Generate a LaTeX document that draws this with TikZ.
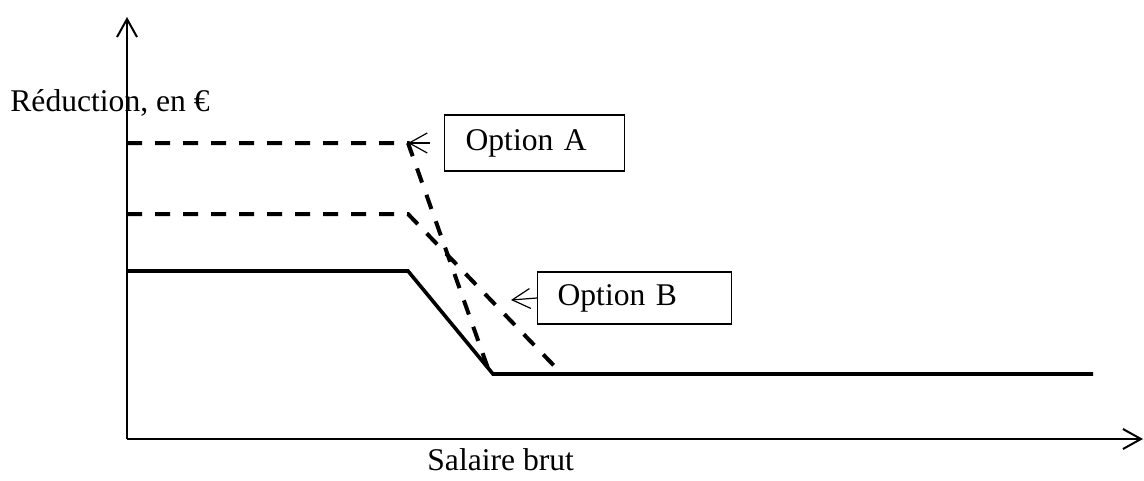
\documentclass[tikz,border=0pt]{standalone}
\usepackage{fontspec}
\setmainfont{Liberation Serif}
\usetikzlibrary{arrows.meta}

\begin{document}
\begin{tikzpicture}[x=0.5pt,y=-0.5pt,
   >={Straight Barb[length=9pt,width=10pt]},
   axe/.style={line width=1pt,->},
   bareme/.style={line width=1.8pt},
   option/.style={line width=2pt,dash pattern=on 7.5pt off 6.5pt},
   etiquette/.style={draw,line width=0.6pt,align=left,inner ysep=0pt,anchor=west},
   every node/.style={font=\fontsize{15.8}{18}\selectfont}]
   \useasboundingbox (0,0) rectangle (1144,481);
   % axes
   \draw[axe] (127,439) -- (127,17);
   \draw[axe] (127,439) -- (1143,439);
   \node[anchor=base west,inner xsep=0pt] (ordonnee) at (10,112) {Réduction, en €};
   \node[anchor=base west,inner xsep=0pt] (abscisse) at (427,470) {Salaire brut};

   % bareme actuel et options
   \draw[bareme] (127,271) -- (408,271) -- (493,374) -- (1093,374);
   \draw[option] (127,143) -- (408,143) -- (490,374);
   \draw[option] (127,214) -- (408,214) -- (562,374);

   \coordinate (coudeA) at (408,143);
   \coordinate (penteB) at (511,300);
   \node[etiquette,text width=69pt,inner xsep=10.5pt,minimum height=28pt] (optA) at (444,143) {Option A};
   \node[etiquette,text width=77pt,inner xsep=10pt,minimum height=26pt] (optB) at (537,298) {Option B};
   \draw[->,line width=0.6pt,shorten <=7pt] (optA.west) -- (coudeA);
   \draw[->,line width=0.6pt] (optB.west) -- (penteB);
\end{tikzpicture}
\end{document}
